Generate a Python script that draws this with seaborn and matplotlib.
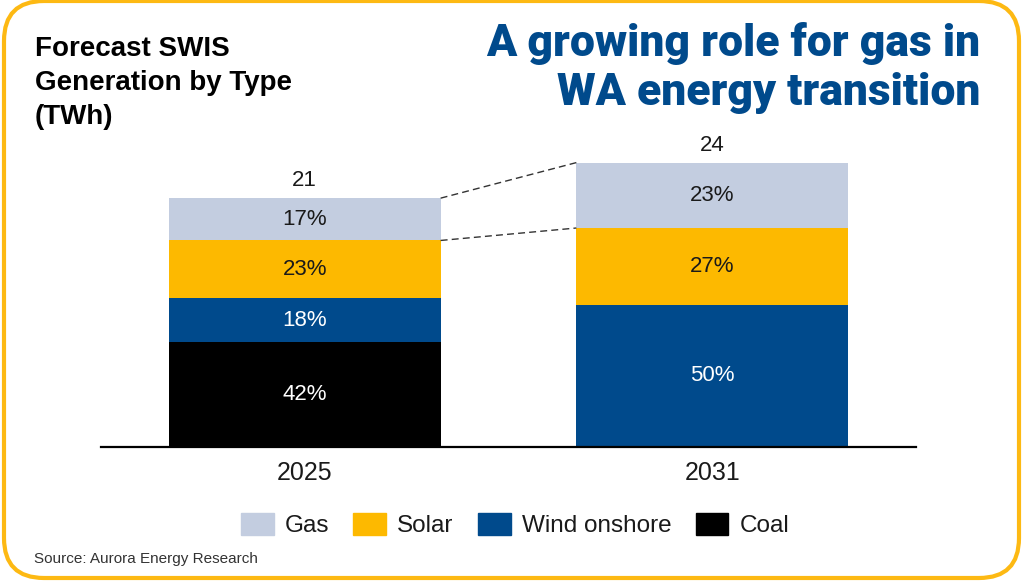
import numpy as np
import pandas as pd
import matplotlib
matplotlib.use("Agg")
import matplotlib.pyplot as plt
import matplotlib.patches as mpatches
from matplotlib.transforms import IdentityTransform
import seaborn as sns

# Data
years = ["2025", "2031"]
totals = [21, 24]                      # TWh
gas_share = [17, 23]                   # % of total
solar_share = [23, 27]
wind_share = [18, 50]
coal_share = [42, 0]

types = ["Gas", "Solar", "Wind onshore", "Coal"]
colors = {"Gas": "#C3CDE0", "Solar": "#FDB900", "Wind onshore": "#004A8C", "Coal": "#000000"}
label_colors = {"Gas": "#1a1a1a", "Solar": "#1a1a1a", "Wind onshore": "white", "Coal": "white"}

shares = {"Gas": gas_share, "Solar": solar_share, "Wind onshore": wind_share, "Coal": coal_share}

# Long table: TWh per type, plus bottoms for stacking (coal at the bottom)
rows = []
for i, yr in enumerate(years):
    bottom = 0.0
    for t in ["Coal", "Wind onshore", "Solar", "Gas"]:
        val = totals[i] * shares[t][i] / 100
        rows.append({"year": yr, "type": t, "share": shares[t][i], "twh": val,
                     "bottom": bottom, "top": bottom + val})
        bottom += val
df = pd.DataFrame(rows)

sns.set_theme(style="white")
plt.rcParams["font.family"] = ["Liberation Sans", "DejaVu Sans"]

fig = plt.figure(figsize=(10.22, 5.81), dpi=100)
ax = fig.add_axes([101 / 1022, (581 - 447) / 581, 815 / 1022, 317 / 581])

bar_w = 0.667
# draw cumulative tops, largest first, so each layer covers the one below
for t in ["Gas", "Solar", "Wind onshore", "Coal"]:
    sub = df[df["type"] == t]
    sns.barplot(data=sub, x="year", y="top", order=years, color=colors[t],
                saturation=1, width=bar_w, linewidth=0, errorbar=None, ax=ax)

# percentage labels inside segments
for _, r in df.iterrows():
    if r["share"] <= 0:
        continue
    xi = years.index(r["year"])
    ax.text(xi, (r["bottom"] + r["top"]) / 2, f"{r['share']:.0f}%", ha="center", va="center",
            fontsize=16, color=label_colors[r["type"]])

# totals on top
for xi, tot in enumerate(totals):
    ax.annotate(f"{tot}", (xi, tot), xytext=(0, 5), textcoords="offset points",
                ha="center", va="bottom", fontsize=16, color="#1a1a1a")

# dashed connectors between the gas segments
gas_rows = df[df["type"] == "Gas"].set_index("year")
for key in ["top", "bottom"]:
    ax.plot([bar_w / 2, 1 - bar_w / 2], [gas_rows.loc["2025", key], gas_rows.loc["2031", key]],
            ls=(0, (5, 3)), lw=1, color="#333333")

ax.set_xlim(-0.5, 1.5)
ax.set_ylim(0, 317 / 11.85)
ax.set_xlabel("")
ax.set_ylabel("")
ax.set_yticks([])
ax.tick_params(axis="x", length=0, labelsize=18, pad=10, colors="#1a1a1a")
for s in ["top", "right", "left"]:
    ax.spines[s].set_visible(False)
ax.spines["bottom"].set_color("black")
ax.spines["bottom"].set_linewidth(1.6)

# legend
handles = [mpatches.Patch(color=colors[t], label=t) for t in types]
fig.legend(handles=handles, loc="center", bbox_to_anchor=(515 / 1022, 1 - 525 / 581), ncol=4,
           frameon=False, fontsize=17.5, handlelength=1.35, handleheight=1.05,
           handletextpad=0.45, columnspacing=1.0, labelcolor="#1a1a1a")

# titles
fig.text(35 / 1022, 1 - 36 / 581, "Forecast SWIS\nGeneration by Type\n(TWh)", ha="left", va="top",
         fontsize=20, fontweight="bold", color="black", linespacing=1.4)
fig.text(980 / 1022, 1 - 22 / 581, "A growing role for gas in\nWA energy transition", ha="right",
         va="top", fontsize=32, fontweight=900, color="#004A8C", linespacing=1.2,
         family=["Roboto", "DejaVu Sans"])
fig.text(34 / 1022, 1 - 559 / 581, "Source: Aurora Energy Research", ha="left", va="center",
         fontsize=11, color="#333333")

# rounded yellow frame
frame = mpatches.FancyBboxPatch((4, 3), 1015, 577, boxstyle="round,pad=0,rounding_size=40",
                                transform=IdentityTransform(), fill=False,
                                edgecolor="#FDB913", linewidth=3)
fig.add_artist(frame)

fig.savefig("out.png", dpi=100)
